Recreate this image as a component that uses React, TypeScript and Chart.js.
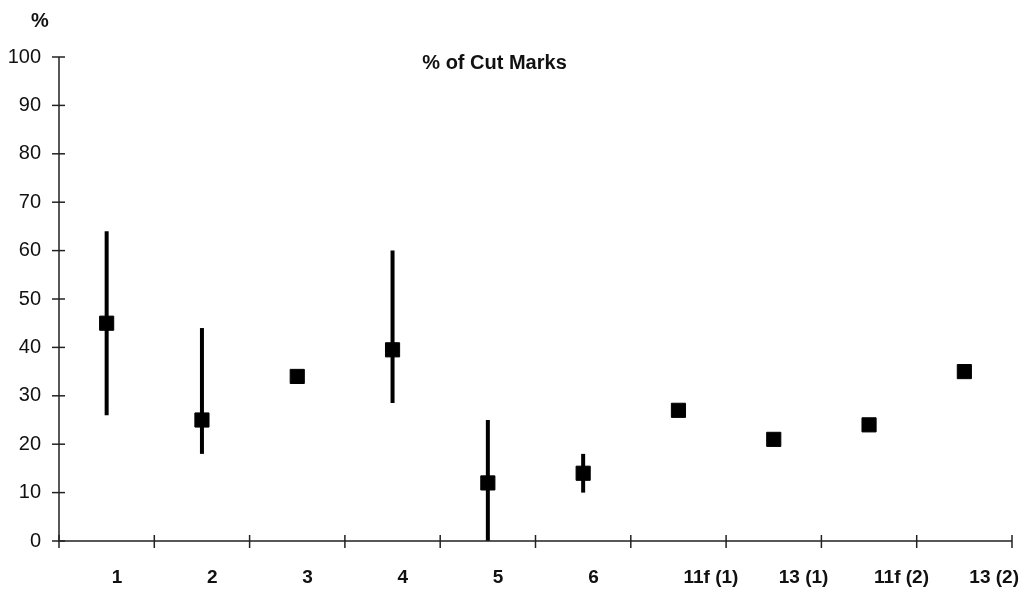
import React, { useEffect, useRef } from "react";
import { Chart, registerables } from "chart.js";

Chart.register(...registerables);

const categories = ["1", "2", "3", "4", "5", "6", "11f (1)", "13 (1)", "11f (2)", "13 (2)"];
const values = [45, 25, 34, 39.5, 12, 14, 27, 21, 24, 35];
const errLow: (number | null)[] = [26, 18, null, 28.5, 0, 10, null, null, null, null];
const errHigh: (number | null)[] = [64, 44, null, 60, 25, 18, null, null, null, null];
const yTicks = [0, 10, 20, 30, 40, 50, 60, 70, 80, 90, 100];
const titleText = "% of Cut Marks";
const yUnit = "%";

const FONT = "'Liberation Sans', Arial, sans-serif";

const decorPlugin = {
  id: "decor",
  beforeDatasetsDraw(chart: any) {
    const { ctx } = chart;
    const x = chart.scales.x;
    const y = chart.scales.y;
    ctx.save();
    ctx.strokeStyle = "#000";
    ctx.lineWidth = 4;
    ctx.lineCap = "butt";
    for (let i = 0; i < values.length; i++) {
      const lo = errLow[i];
      const hi = errHigh[i];
      if (lo == null || hi == null) continue;
      const px = x.getPixelForValue(i);
      ctx.beginPath();
      ctx.moveTo(px, y.getPixelForValue(lo));
      ctx.lineTo(px, y.getPixelForValue(hi));
      ctx.stroke();
    }
    ctx.restore();
  },
  afterDraw(chart: any) {
    const { ctx, chartArea } = chart;
    const x = chart.scales.x;
    const y = chart.scales.y;
    ctx.save();
    ctx.strokeStyle = "#222";
    ctx.lineWidth = 1.5;
    ctx.beginPath();
    ctx.moveTo(chartArea.left, chartArea.top);
    ctx.lineTo(chartArea.left, chartArea.bottom);
    ctx.lineTo(chartArea.right, chartArea.bottom);
    ctx.stroke();
    for (const v of yTicks) {
      const py = y.getPixelForValue(v);
      ctx.beginPath();
      ctx.moveTo(chartArea.left - 7, py);
      ctx.lineTo(chartArea.left + 6, py);
      ctx.stroke();
    }
    const step = x.getPixelForValue(1) - x.getPixelForValue(0);
    for (let i = 0; i <= categories.length; i++) {
      const px = x.getPixelForValue(0) - step / 2 + i * step;
      ctx.beginPath();
      ctx.moveTo(px, chartArea.bottom - 6);
      ctx.lineTo(px, chartArea.bottom + 7);
      ctx.stroke();
    }
    ctx.fillStyle = "#111";
    ctx.textAlign = "center";
    ctx.textBaseline = "middle";
    ctx.font = `bold 20px ${FONT}`;
    ctx.fillText(titleText, chartArea.left + (chartArea.right - chartArea.left) * 0.457, 63);
    ctx.fillText(yUnit, 40, 21);
    ctx.restore();
  },
};

export default function App() {
  const ref = useRef<HTMLCanvasElement>(null);
  useEffect(() => {
    if (!ref.current) return;
    const chart = new Chart(ref.current, {
      type: "line",
      data: {
        labels: categories,
        datasets: [
          {
            data: values,
            showLine: false,
            pointStyle: "rect",
            pointRadius: 10,
            pointHoverRadius: 10,
            backgroundColor: "#000",
            borderColor: "#000",
            borderWidth: 1,
          },
        ],
      },
      options: {
        animation: false,
        responsive: false,
        events: [],
        layout: { padding: { left: 0, right: 17, top: 57, bottom: 0 } },
        plugins: { legend: { display: false }, tooltip: { enabled: false }, title: { display: false } },
        scales: {
          x: {
            type: "category",
            offset: true,
            grid: { display: true, drawOnChartArea: false, drawTicks: false },
            border: { display: false },
            ticks: {
              align: "start",
              labelOffset: 5,
              padding: 25,
              color: "#111",
              font: { family: FONT, size: 19, weight: "bold" },
              maxRotation: 0,
              autoSkip: false,
            },
            afterFit: (s: any) => {
              s.height = 51;
              s.paddingLeft = 0;
              s.paddingRight = 0;
            },
          },
          y: {
            min: 0,
            max: 100,
            grid: { display: true, drawOnChartArea: false, drawTicks: false },
            border: { display: false },
            ticks: {
              stepSize: 10,
              padding: 18,
              color: "#111",
              font: { family: FONT, size: 20 },
            },
            afterFit: (s: any) => {
              s.width = 59;
              s.paddingTop = 0;
              s.paddingBottom = 0;
            },
          },
        },
      },
      plugins: [decorPlugin],
    });
    return () => chart.destroy();
  }, []);
  return (
    <div style={{ position: "fixed", left: 0, top: 0, width: 1029, height: 592, background: "#fff" }}>
      <canvas ref={ref} width={1029} height={592} style={{ display: "block" }} />
    </div>
  );
}
